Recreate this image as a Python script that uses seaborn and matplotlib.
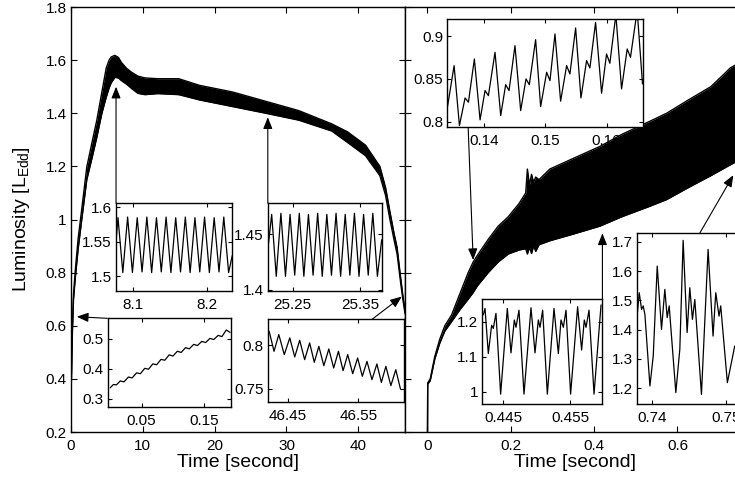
import matplotlib
matplotlib.use("Agg")
import matplotlib.pyplot as plt
import seaborn as sns

# ---- main curves: lower / upper envelope of the fast oscillation ----
left_t = [0.0, 0.1, 0.2, 0.35, 0.6, 1.0, 1.5, 2.2, 3.0, 3.6, 4.3, 4.9, 5.3, 5.6, 6.1, 6.6, 7.0, 7.7, 8.4, 9.3, 10.3,
          12.1, 15.0, 17.9, 22.5, 27.1, 31.7, 36.3, 38.5, 41.0, 43.0, 43.8, 44.4, 45.0, 45.4, 45.9, 46.2, 46.5]
left_lo = [0.33, 0.45, 0.58, 0.70, 0.78, 0.89, 1.00, 1.15, 1.24, 1.31, 1.40, 1.46, 1.495, 1.515, 1.535, 1.533, 1.523, 1.51,
           1.494, 1.475, 1.47,
           1.474, 1.47, 1.45, 1.425, 1.40, 1.374, 1.333, 1.29, 1.24, 1.165, 1.09, 1.0, 0.92, 0.87, 0.76, 0.70, 0.645]
left_hi = [0.34, 0.46, 0.60, 0.72, 0.81, 0.93, 1.04, 1.198, 1.30, 1.375, 1.48, 1.57, 1.60, 1.612, 1.618, 1.61, 1.592,
           1.57, 1.555, 1.54, 1.533,
           1.53, 1.53, 1.505, 1.48, 1.445, 1.41, 1.36, 1.33, 1.28, 1.20, 1.12, 1.03, 0.945, 0.895, 0.78, 0.715, 0.66]

right_t = [0.0005, 0.001, 0.007, 0.018, 0.030, 0.042, 0.058, 0.078, 0.098, 0.11, 0.12, 0.146, 0.17, 0.194, 0.22, 0.236,
           0.240, 0.245, 0.250, 0.255, 0.260, 0.268, 0.294, 0.35, 0.414, 0.466, 0.534, 0.574, 0.626, 0.68, 0.72, 0.726, 0.76]
right_lo = [0.20, 0.38, 0.393, 0.475, 0.535, 0.58, 0.615, 0.66, 0.70, 0.725, 0.75, 0.80, 0.84, 0.87, 0.885, 0.89,
            0.87, 0.895, 0.872, 0.90, 0.88, 0.905, 0.92, 0.945, 0.975, 1.01, 1.05, 1.075, 1.12, 1.165, 1.20, 1.205, 1.235]
right_hi = [0.20, 0.385, 0.40, 0.485, 0.55, 0.60, 0.64, 0.72, 0.80, 0.84, 0.865, 0.925, 0.975, 1.01, 1.06, 1.10,
            1.19, 1.13, 1.17, 1.14, 1.16, 1.15, 1.19, 1.23, 1.275, 1.32, 1.37, 1.40, 1.45, 1.50, 1.56, 1.57, 1.60]

# ---- insets: turning points of the light curve ----
a_t = [8.0766, 8.0793, 8.0858, 8.0923, 8.0988, 8.1053, 8.1118, 8.1183, 8.1248, 8.1313, 8.1378, 8.1443, 8.1508,
       8.1573, 8.1638, 8.1703, 8.1768, 8.1833, 8.1898, 8.1963, 8.2028, 8.2093, 8.2158, 8.2223, 8.2288, 8.2338]
a_v = [1.55, 1.585, 1.505, 1.586, 1.505, 1.585, 1.506, 1.586, 1.505, 1.585, 1.506, 1.586, 1.505,
       1.585, 1.506, 1.586, 1.505, 1.585, 1.506, 1.586, 1.505, 1.585, 1.506, 1.586, 1.505, 1.53]

b_t = [25.2129, 25.2188, 25.2256, 25.2325, 25.2393, 25.2461, 25.2530, 25.2598, 25.2666, 25.2734, 25.2803, 25.2871, 25.2939,
       25.3007, 25.3076, 25.3144, 25.3212, 25.3280, 25.3349, 25.3417, 25.3485, 25.3553, 25.3622, 25.3690, 25.3758, 25.3822]
b_v = [1.435, 1.468, 1.412, 1.469, 1.412, 1.468, 1.413, 1.469, 1.412, 1.468, 1.413, 1.469, 1.412,
       1.468, 1.413, 1.469, 1.412, 1.468, 1.413, 1.469, 1.412, 1.468, 1.413, 1.469, 1.412, 1.445]

c_t = [0.000, 0.005, 0.010, 0.016, 0.022, 0.029, 0.035, 0.042, 0.048, 0.055, 0.061, 0.068, 0.074, 0.081, 0.087, 0.094,
       0.100, 0.107, 0.113, 0.120, 0.126, 0.133, 0.139, 0.146, 0.152, 0.159, 0.165, 0.172, 0.178, 0.185, 0.191]
c_v = [0.337, 0.348, 0.347, 0.360, 0.357, 0.373, 0.370, 0.387, 0.384, 0.402, 0.399, 0.417, 0.414, 0.432, 0.429, 0.447,
       0.443, 0.459, 0.455, 0.471, 0.467, 0.482, 0.478, 0.492, 0.488, 0.502, 0.498, 0.512, 0.508, 0.530, 0.522]

d_t = [46.4210, 46.4231, 46.4300, 46.4368, 46.4446, 46.4524, 46.4595, 46.4665, 46.4736, 46.4807, 46.4873, 46.4938, 46.5009,
       46.5080, 46.5149, 46.5217, 46.5283, 46.5349, 46.5420, 46.5490, 46.5557, 46.5623, 46.5694, 46.5764, 46.5828, 46.5892,
       46.5963, 46.6033, 46.6100]
d_v = [0.812, 0.8162, 0.7931, 0.8124, 0.7893, 0.8085, 0.7866, 0.8058, 0.7835, 0.8028, 0.7804, 0.7988, 0.7765,
       0.7958, 0.7739, 0.7931, 0.7708, 0.7893, 0.7673, 0.7854, 0.7643, 0.7815, 0.7604, 0.7785, 0.7573, 0.7758,
       0.7535, 0.7719, 0.7496]

e_t = [0.13402, 0.13511, 0.13598, 0.1369, 0.13745, 0.13842, 0.13935, 0.14016, 0.14071, 0.14179, 0.14272, 0.14353, 0.14408,
       0.14505, 0.14598, 0.14685, 0.14739, 0.14842, 0.14924, 0.15022, 0.15076, 0.15158, 0.1525, 0.15348, 0.15402, 0.15495,
       0.15582, 0.15674, 0.15728, 0.15821, 0.15919, 0.16, 0.16054, 0.16152, 0.16245, 0.16337, 0.16391, 0.165, 0.16587]
e_v = [0.817, 0.8655, 0.7955, 0.8278, 0.8228, 0.8733, 0.8022, 0.8364, 0.8305, 0.8811, 0.8072, 0.8433, 0.8364,
       0.8889, 0.813, 0.85, 0.8433, 0.8959, 0.8177, 0.8578, 0.848, 0.9025, 0.824, 0.8655, 0.8558, 0.9095,
       0.8278, 0.8714, 0.8628, 0.9161, 0.8333, 0.8792, 0.8683, 0.925, 0.8383, 0.885, 0.8753, 0.93, 0.8442]

f_t = [0.44200, 0.44226, 0.44275, 0.44325, 0.4435, 0.4439, 0.4446, 0.4456, 0.44615, 0.44665, 0.4469, 0.44735, 0.4481,
       0.44915, 0.44975, 0.45025, 0.4505, 0.4509, 0.4516, 0.4526, 0.45325, 0.45365, 0.454, 0.4544, 0.45509, 0.45614,
       0.45674, 0.45714, 0.4574, 0.45785, 0.4586, 0.45965]
f_v = [1.22, 1.238, 1.109, 1.19, 1.181, 1.224, 0.993, 1.238, 1.111, 1.205, 1.184, 1.233, 0.993,
       1.24, 1.111, 1.205, 1.184, 1.233, 0.993, 1.238, 1.109, 1.205, 1.184, 1.233, 0.993, 1.243,
       1.119, 1.205, 1.184, 1.233, 0.993, 1.248]

g_t = [0.73788, 0.73824, 0.73856, 0.73878, 0.73901, 0.73969, 0.74014, 0.74068, 0.74126, 0.74171, 0.74203, 0.7423, 0.7432,
       0.74374, 0.74419, 0.74473, 0.74509, 0.74545, 0.74577, 0.74667, 0.74757, 0.74824, 0.74861, 0.74905, 0.74928, 0.75018,
       0.75118]
g_v = [1.424, 1.526, 1.469, 1.481, 1.452, 1.2075, 1.31, 1.617, 1.401, 1.5375, 1.441, 1.481, 1.185,
       1.333, 1.705, 1.39, 1.543, 1.435, 1.503, 1.179, 1.674, 1.378, 1.526, 1.446, 1.481, 1.219,
       1.344]

lum_ticks = [0.2, 0.4, 0.6, 0.8, 1.0, 1.2, 1.4, 1.6, 1.8]
lum_labels = ['0.2', '0.4', '0.6', '0.8', '1', '1.2', '1.4', '1.6', '1.8']

sns.set_style("ticks")
plt.rcParams['font.family'] = ['Liberation Sans', 'DejaVu Sans']
plt.rcParams['mathtext.fontset'] = 'custom'
plt.rcParams['mathtext.rm'] = 'Liberation Sans'
plt.rcParams['xtick.direction'] = 'in'
plt.rcParams['ytick.direction'] = 'in'
for key in ['text.color', 'axes.labelcolor', 'xtick.color', 'ytick.color', 'axes.edgecolor']:
    plt.rcParams[key] = 'black'

W, H = 735, 482
fig = plt.figure(figsize=(W / 100, H / 100), dpi=100)


def box(x0, y0, x1, y1):
    # pixel box with top-left origin -> figure fraction rect
    return [x0 / W, 1 - y1 / H, (x1 - x0) / W, (y1 - y0) / H]


def band(ax, t, lo, hi):
    ax.fill_between(t, lo, hi, color='k', lw=0)
    sns.lineplot(x=t, y=lo, ax=ax, color='k', lw=1)
    sns.lineplot(x=t, y=hi, ax=ax, color='k', lw=1)


def style(ax, ticklen=4, xpad=5, ypad=3):
    ax.tick_params(which='both', top=True, right=True, length=ticklen, width=0.8,
                   labelsize=11, color='k', labelcolor='k')
    ax.tick_params(axis='x', pad=xpad)
    ax.tick_params(axis='y', pad=ypad)
    for s in ax.spines.values():
        s.set_linewidth(1.0)
        s.set_color('k')
    ax.set_xlabel('')
    ax.set_ylabel('')


def inset(rect, t, v, xlim, ylim, xt, xl, yt, yl):
    ax = fig.add_axes(rect)
    sns.lineplot(x=t, y=v, ax=ax, color='k', lw=0.9)
    ax.set_xlim(xlim)
    ax.set_ylim(ylim)
    ax.set_xticks(xt)
    ax.set_xticklabels(xl)
    ax.set_yticks(yt)
    ax.set_yticklabels(yl)
    style(ax, ticklen=3)
    return ax


def arrow(ax, start, end):
    ax.annotate('', xy=end, xytext=start, annotation_clip=False,
                arrowprops=dict(arrowstyle='-|>,head_length=0.7,head_width=0.28',
                                color='k', lw=0.8, shrinkA=0, shrinkB=0))


# left panel
ax1 = fig.add_axes(box(71, 7, 405, 432))
band(ax1, left_t, left_lo, left_hi)
ax1.set_xlim(0, 46.5)
ax1.set_ylim(0.2, 1.8)
ax1.set_xticks([0, 10, 20, 30, 40])
ax1.set_xticklabels(['0', '10', '20', '30', '40'])
ax1.set_yticks(lum_ticks)
ax1.set_yticklabels(lum_labels)
style(ax1)
ax1.set_xlabel('Time [second]', fontsize=14)
ax1.xaxis.set_label_coords(0.5, -0.052)
ax1.set_ylabel('Luminosity [L$_{\\mathrm{Edd}}$]', fontsize=14)
ax1.yaxis.set_label_coords(-0.117, 0.5)

arrow(ax1, (6.27, 1.062), (6.27, 1.50))
arrow(ax1, (27.4, 1.062), (27.4, 1.385))
arrow(ax1, (5.05, 0.628), (0.8, 0.634))
arrow(ax1, (41.9, 0.624), (46.06, 0.71))

# right panel
ax2 = fig.add_axes(box(405, 7, 745, 432))
band(ax2, right_t, right_lo, right_hi)
ax2.set_xlim(-0.0535, 0.762)
ax2.set_ylim(0.2, 1.8)
ax2.set_xticks([0, 0.2, 0.4, 0.6])
ax2.set_xticklabels(['0', '0.2', '0.4', '0.6'])
ax2.set_yticks(lum_ticks)
ax2.set_yticklabels([])
style(ax2)
ax2.set_xlabel('Time [second]', fontsize=14)
ax2.xaxis.set_label_coords(0.5, -0.052)

arrow(ax2, (0.098, 1.347), (0.110, 0.847))
arrow(ax2, (0.42, 0.70), (0.42, 0.948))
arrow(ax2, (0.654, 0.95), (0.734, 1.167))

# insets
inset(box(116, 203.3, 232.3, 290.7), a_t, a_v, (8.0766, 8.2338), (1.4786, 1.606),
      [8.1, 8.2], ['8.1', '8.2'], [1.5, 1.55, 1.6], ['1.5', '1.55', '1.6'])
inset(box(267.7, 203.3, 381.7, 290.7), b_t, b_v, (25.2129, 25.3822), (1.399, 1.478),
      [25.25, 25.35], ['25.25', '25.35'], [1.4, 1.45], ['1.4', '1.45'])
inset(box(107.7, 317.7, 230.7, 406.7), c_t, c_v, (-0.004, 0.192), (0.274, 0.571),
      [0.05, 0.15], ['0.05', '0.15'], [0.3, 0.4, 0.5], ['0.3', '0.4', '0.5'])
inset(box(267.7, 319.3, 404.0, 401.7), d_t, d_v, (46.421, 46.615), (0.735, 0.830),
      [46.45, 46.55], ['46.45', '46.55'], [0.75, 0.8], ['0.75', '0.8'])
inset(box(447.3, 19, 643.3, 127.3), e_t, e_v, (0.134, 0.166), (0.7935, 0.92),
      [0.14, 0.15, 0.16], ['0.14', '0.15', '0.16'], [0.8, 0.85, 0.9], ['0.8', '0.85', '0.9'])
inset(box(482.3, 299, 602.3, 404.3), f_t, f_v, (0.44185, 0.45984), (0.964, 1.265),
      [0.445, 0.455], ['0.445', '0.455'], [1.0, 1.1, 1.2], ['1', '1.1', '1.2'])
inset(box(636.7, 232.7, 760, 404.3), g_t, g_v, (0.7379, 0.7546), (1.145, 1.731),
      [0.74, 0.75], ['0.74', '0.75'], [1.2, 1.3, 1.4, 1.5, 1.6, 1.7],
      ['1.2', '1.3', '1.4', '1.5', '1.6', '1.7'])

fig.savefig('out.png', dpi=100)
